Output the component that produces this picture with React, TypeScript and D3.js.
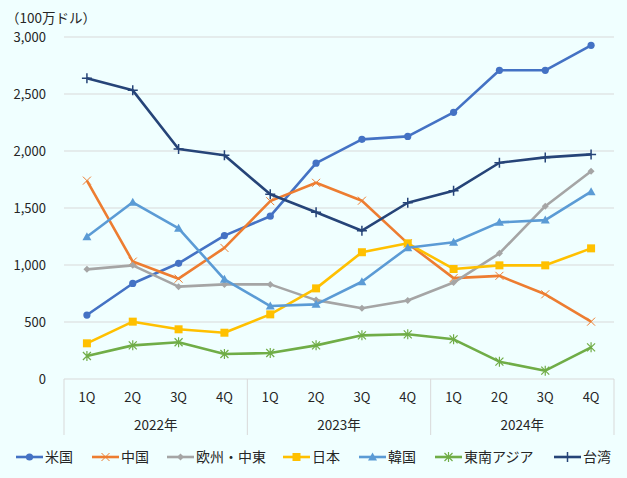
import React, { useEffect, useRef } from 'react';
import * as d3 from 'd3';

const quarters = ['1Q', '2Q', '3Q', '4Q', '1Q', '2Q', '3Q', '4Q', '1Q', '2Q', '3Q', '4Q'];
const years = ['2022年', '2023年', '2024年'];
const yTicks = [0, 500, 1000, 1500, 2000, 2500, 3000];

const usa = [561, 838, 1015, 1258, 1428, 1893, 2102, 2128, 2339, 2708, 2708, 2927];
const china = [1740, 1030, 880, 1150, 1560, 1721, 1564, 1190, 885, 905, 743, 503];
const europe = [962, 997, 810, 830, 830, 692, 620, 688, 846, 1102, 1516, 1822];
const japan = [313, 503, 436, 406, 567, 795, 1112, 1190, 965, 997, 997, 1146];
const korea = [1248, 1550, 1322, 874, 640, 655, 853, 1152, 1199, 1374, 1394, 1643];
const seAsia = [202, 295, 322, 219, 228, 295, 383, 392, 348, 152, 73, 278];
const taiwan = [2638, 2532, 2017, 1962, 1620, 1462, 1301, 1546, 1651, 1897, 1944, 1970];

const seriesNames = ['米国', '中国', '欧州・中東', '日本', '韓国', '東南アジア', '台湾'];
const seriesValues = [usa, china, europe, japan, korea, seAsia, taiwan];
const colors = ['#4472C4', '#ED7D31', '#A5A5A5', '#FFC000', '#5B9BD5', '#70AD47', '#264478'];
const markers = ['circle', 'x', 'diamond', 'square', 'triangle', 'star', 'plus'];

const legendX = [16, 92, 167, 283, 359, 435, 554];

const W = 627;
const H = 478;
const FONT = '"Noto Sans CJK JP", "Noto Sans", sans-serif';
const TEXT = '#262626';

function drawMarker(g: any, type: string, x: number, y: number, color: string) {
  if (type === 'circle') {
    g.append('circle').attr('cx', x).attr('cy', y).attr('r', 3.6).attr('fill', color);
  } else if (type === 'square') {
    g.append('rect').attr('x', x - 4).attr('y', y - 4).attr('width', 8).attr('height', 8).attr('fill', color);
  } else if (type === 'diamond') {
    g.append('path').attr('d', `M${x},${y - 3.5}L${x + 3.5},${y}L${x},${y + 3.5}L${x - 3.5},${y}Z`).attr('fill', color);
  } else if (type === 'triangle') {
    g.append('path').attr('d', `M${x},${y - 4.5}L${x + 4.5},${y + 3.5}L${x - 4.5},${y + 3.5}Z`).attr('fill', color);
  } else if (type === 'x') {
    g.append('path').attr('d', `M${x - 4},${y - 4}L${x + 4},${y + 4}M${x + 4},${y - 4}L${x - 4},${y + 4}`)
      .attr('stroke', color).attr('stroke-width', 1);
  } else if (type === 'star') {
    g.append('path').attr('d', `M${x - 4},${y - 4}L${x + 4},${y + 4}M${x + 4},${y - 4}L${x - 4},${y + 4}M${x},${y - 5}L${x},${y + 5}`)
      .attr('stroke', color).attr('stroke-width', 1.2);
  } else if (type === 'plus') {
    g.append('path').attr('d', `M${x - 5},${y}L${x + 5},${y}M${x},${y - 5}L${x},${y + 5}`)
      .attr('stroke', color).attr('stroke-width', 1.5);
  }
}

const App: React.FC = () => {
  const ref = useRef<SVGSVGElement | null>(null);

  useEffect(() => {
    if (!ref.current) return;
    const svg = d3.select(ref.current);
    svg.selectAll('*').remove();

    const left = 64;
    const right = 614;
    const top = 37;
    const bottom = 379;

    const x = d3.scaleBand<number>().domain(d3.range(quarters.length)).range([left, right]);
    const y = d3.scaleLinear().domain([0, 3000]).range([bottom, top]);

    svg.append('rect').attr('width', W).attr('height', H).attr('fill', '#F0FFFF');

    // grid
    svg.append('g').selectAll('line').data(yTicks).enter().append('line')
      .attr('x1', left).attr('x2', right)
      .attr('y1', (d) => y(d)).attr('y2', (d) => y(d))
      .attr('stroke', '#D9D9D9').attr('stroke-width', 1);

    svg.append('g').selectAll('text').data(yTicks).enter().append('text')
      .attr('x', 46).attr('y', (d) => y(d)).attr('dy', '0.35em')
      .attr('text-anchor', 'end').attr('font-size', 13).attr('font-family', FONT).attr('fill', TEXT)
      .text((d) => d3.format(',')(d));

    svg.append('text').attr('x', 6).attr('y', 18).attr('dy', '0.35em')
      .attr('font-size', 13.5).attr('font-family', FONT).attr('fill', TEXT)
      .text('（100万ドル）');

    // x axis separators
    const sepIdx = [0, 4, 8, 12];
    svg.append('g').selectAll('line').data(sepIdx).enter().append('line')
      .attr('x1', (d) => (d < 12 ? x(d)! : right)).attr('x2', (d) => (d < 12 ? x(d)! : right))
      .attr('y1', bottom).attr('y2', 435)
      .attr('stroke', '#D9D9D9').attr('stroke-width', 1);

    svg.append('g').selectAll('text').data(quarters).enter().append('text')
      .attr('x', (_d, i) => x(i)! + x.bandwidth() / 2).attr('y', 397).attr('dy', '0.35em')
      .attr('text-anchor', 'middle').attr('font-size', 13).attr('font-family', FONT).attr('fill', TEXT)
      .text((d) => d);

    svg.append('g').selectAll('text').data(years).enter().append('text')
      .attr('x', (_d, i) => (x(i * 4)! + x(i * 4 + 3)! + x.bandwidth()) / 2).attr('y', 425).attr('dy', '0.35em')
      .attr('text-anchor', 'middle').attr('font-size', 13.5).attr('font-family', FONT).attr('fill', TEXT)
      .text((d) => d);

    const line = d3.line<number>()
      .x((_d, i) => x(i)! + x.bandwidth() / 2)
      .y((d) => y(d));

    seriesValues.forEach((vals, s) => {
      const g = svg.append('g');
      g.append('path').datum(vals).attr('d', line).attr('fill', 'none')
        .attr('stroke', colors[s]).attr('stroke-width', 2.6).attr('stroke-linejoin', 'round');
      vals.forEach((v, i) => drawMarker(g, markers[s], x(i)! + x.bandwidth() / 2, y(v), colors[s]));
    });

    // legend
    const ly = 457;
    seriesNames.forEach((name, s) => {
      const g = svg.append('g');
      const lx = legendX[s];
      g.append('line').attr('x1', lx).attr('x2', lx + 27).attr('y1', ly).attr('y2', ly)
        .attr('stroke', colors[s]).attr('stroke-width', 2.6);
      drawMarker(g, markers[s], lx + 13.5, ly, colors[s]);
      g.append('text').attr('x', lx + 29).attr('y', ly).attr('dy', '0.35em')
        .attr('font-size', 14).attr('font-family', FONT).attr('fill', TEXT)
        .text(name);
    });
  }, []);

  return (
    <svg ref={ref} width={W} height={H} style={{ position: 'absolute', left: 0, top: 0, display: 'block' }} />
  );
};

export default App;
